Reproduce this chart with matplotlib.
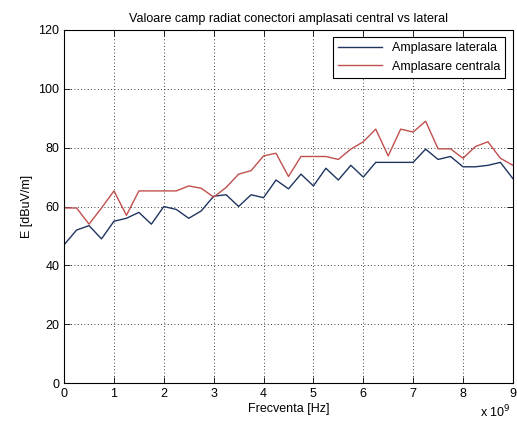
import numpy as np
import matplotlib.pyplot as plt

# frequency in units of 1e9 Hz
frecventa = np.arange(0, 9.01, 0.25)

laterala = [47, 52, 53.5, 49, 55, 56, 58, 54, 60, 59, 56, 58.5, 63.5,
            64, 60, 64, 63, 69, 66, 71, 67, 73, 69, 74, 70, 75, 75, 75,
            75, 79.5, 76, 77, 73.5, 73.5, 74, 75, 69.5]
centrala = [59.5, 59.5, 54, 59.5, 65.3, 57, 65.3, 65.3, 65.3, 65.3, 67,
            66.2, 63.2, 66.5, 71, 72.2, 77.2, 78.1, 70.2, 77, 77, 77, 76,
            79.5, 82, 86.3, 77.2, 86.3, 85.3, 89, 79.6, 79.6, 76.4, 80.4,
            82, 76.4, 74]

plt.rcParams['font.family'] = ['Liberation Sans', 'DejaVu Sans']
plt.rcParams['font.size'] = 9

fig = plt.figure(figsize=(5.17, 4.28), dpi=100)
ax = fig.add_axes([0.124, 0.105, 0.868, 0.825])

ax.plot(frecventa, laterala, color='#1f3560', lw=1.0, label='Amplasare laterala')
ax.plot(frecventa, centrala, color='#c0504d', lw=1.0, label='Amplasare centrala')

ax.set_xlim(0, 9)
ax.set_ylim(0, 120)
ax.set_xticks(range(0, 10))
ax.set_yticks(range(0, 121, 20))
ax.grid(True, color='black', linestyle=(0, (1, 3)), linewidth=0.6)
ax.tick_params(direction='in', top=True, right=True, length=4, width=0.6)
for s in ax.spines.values():
    s.set_linewidth(0.8)

ax.set_title('Valoare camp radiat conectori amplasati central vs lateral', fontsize=9, pad=6)
ax.set_xlabel('Frecventa [Hz]', labelpad=2)
ax.set_ylabel('E [dBuV/m]', labelpad=4)
ax.text(0.995, -0.058, r'x 10$^{9}$', transform=ax.transAxes, ha='right', va='top', fontsize=9)

leg = ax.legend(loc='upper right', fancybox=False, framealpha=1, edgecolor='black',
                fontsize=9, borderpad=0.4, handlelength=3.5, borderaxespad=0.6)
leg.get_frame().set_linewidth(0.8)

fig.savefig('out.png', dpi=100)
